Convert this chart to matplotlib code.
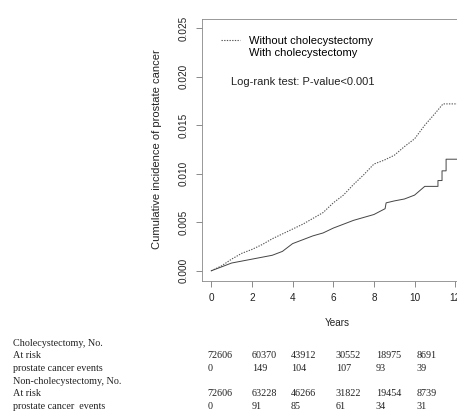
import matplotlib
matplotlib.use("Agg")
import matplotlib.pyplot as plt
from matplotlib.lines import Line2D

# cumulative incidence curves
t_without = [0, 0.5, 1, 1.5, 2, 2.5, 3, 3.5, 4, 4.5, 5, 5.5, 6, 6.5, 7, 7.5,
             8, 8.5, 9, 9.5, 10, 10.5, 11, 11.4, 12.1]
ci_without = [0, 0.0005, 0.0012, 0.0018, 0.0022, 0.0027, 0.0033, 0.0038, 0.0043,
              0.0048, 0.0054, 0.0060, 0.0070, 0.0078, 0.0089, 0.0099, 0.0110,
              0.0114, 0.0119, 0.0128, 0.0136, 0.0150, 0.0162, 0.0172, 0.0172]

t_with = [0, 0.5, 1, 1.5, 2, 2.5, 3, 3.5, 4, 4.5, 5, 5.5, 6, 6.5, 7, 7.5, 8,
          8.55, 8.6, 9, 9.5, 10, 10.5, 11.15, 11.15, 11.35, 11.35, 11.55, 11.55, 12.1]
ci_with = [0, 0.0004, 0.0008, 0.0010, 0.0012, 0.0014, 0.0016, 0.0020, 0.0028,
           0.0032, 0.0036, 0.0039, 0.0044, 0.0048, 0.0052, 0.0055, 0.0058,
           0.0064, 0.0070, 0.0072, 0.0074, 0.0078, 0.0087, 0.0087, 0.0093,
           0.0093, 0.0103, 0.0103, 0.0115, 0.0115]

x_ticks = [0, 2, 4, 6, 8, 10, 12]
y_ticks = [0.000, 0.005, 0.010, 0.015, 0.020, 0.025]

# numbers-at-risk table
row_labels = ["Cholecystectomy, No.", "At risk", "prostate cancer events",
              "Non-cholecystectomy, No.", "At risk", "prostate cancer  events"]
chole_at_risk = [72606, 60370, 43912, 30552, 18975, 8691]
chole_events = [0, 149, 104, 107, 93, 39]
non_at_risk = [72606, 63228, 46266, 31822, 19454, 8739]
non_events = [0, 91, 85, 61, 34, 31]

W, H = 457, 415
fig = plt.figure(figsize=(W / 100, H / 100), dpi=100)
ax = fig.add_axes([201.5 / W, (H - 280.5) / H, (465 - 201.5) / W, (280.5 - 18.5) / H])

ax.plot(t_without, ci_without, color="#555555", lw=0.8, ls=(0, (1.2, 1.2)))
ax.plot(t_with, ci_with, color="#444444", lw=0.7)

ax.set_xlim(-0.48, 12.48)
ax.set_ylim(-0.001, 0.026)
ax.set_xticks(x_ticks)
ax.set_yticks(y_ticks)
ax.set_yticklabels(["%.3f" % v for v in y_ticks], rotation=90, va="center")

sans = "Liberation Sans"
for lab in ax.get_xticklabels() + ax.get_yticklabels():
    lab.set_fontfamily(sans)
    lab.set_fontsize(7.2)
    lab.set_color("#222222")
ax.tick_params(axis="y", length=4, width=0.6, color="#777777", pad=5.5)
ax.tick_params(axis="x", length=4.3, width=0.6, color="#777777", pad=4.5)
for s in ax.spines.values():
    s.set_color("#888888")
    s.set_linewidth(0.6)

ax.set_ylabel("Cumulative incidence of prostate cancer", fontsize=8,
              fontfamily=sans, color="#222222")
ax.yaxis.set_label_coords(-0.15, 0.5)
ax.set_xlabel("Years", fontsize=7.2, fontfamily=sans, color="#222222")
ax.xaxis.set_label_coords(0.514, -0.143)

handles = [Line2D([], [], color="#555555", lw=0.8, ls=(0, (1.2, 1.2))),
           Line2D([], [], color="none", lw=0.8)]
ax.legend(handles, ["Without cholecystectomy", "With cholecystectomy"],
          loc="upper left", bbox_to_anchor=(0.074, 0.935), frameon=False,
          borderpad=0, borderaxespad=0, handlelength=1.7, handletextpad=0.8,
          labelspacing=0.22, prop={"family": sans, "size": 8})
ax.text(0.112, 0.759, "Log-rank test: P-value<0.001", transform=ax.transAxes,
        fontsize=8, fontfamily=sans, va="center", color="#222222")

# table under the plot
row_y = [343, 355.7, 368.3, 381, 393.5, 406.3]
col_x = [207.3, 251.7, 291, 335.7, 375.7, 416.7]
serif = dict(fontfamily="Liberation Serif", fontsize=7.3, va="center", color="#222222")
for lab, yy in zip(row_labels, row_y):
    fig.text(12.7 / W, 1 - yy / H, lab, **serif)
for vals, yy in zip([chole_at_risk, chole_events, non_at_risk, non_events],
                    [row_y[1], row_y[2], row_y[4], row_y[5]]):
    for v, xx in zip(vals, col_x):
        fig.text(xx / W, 1 - yy / H, str(v), **serif)

fig.savefig("out.png", dpi=100)
